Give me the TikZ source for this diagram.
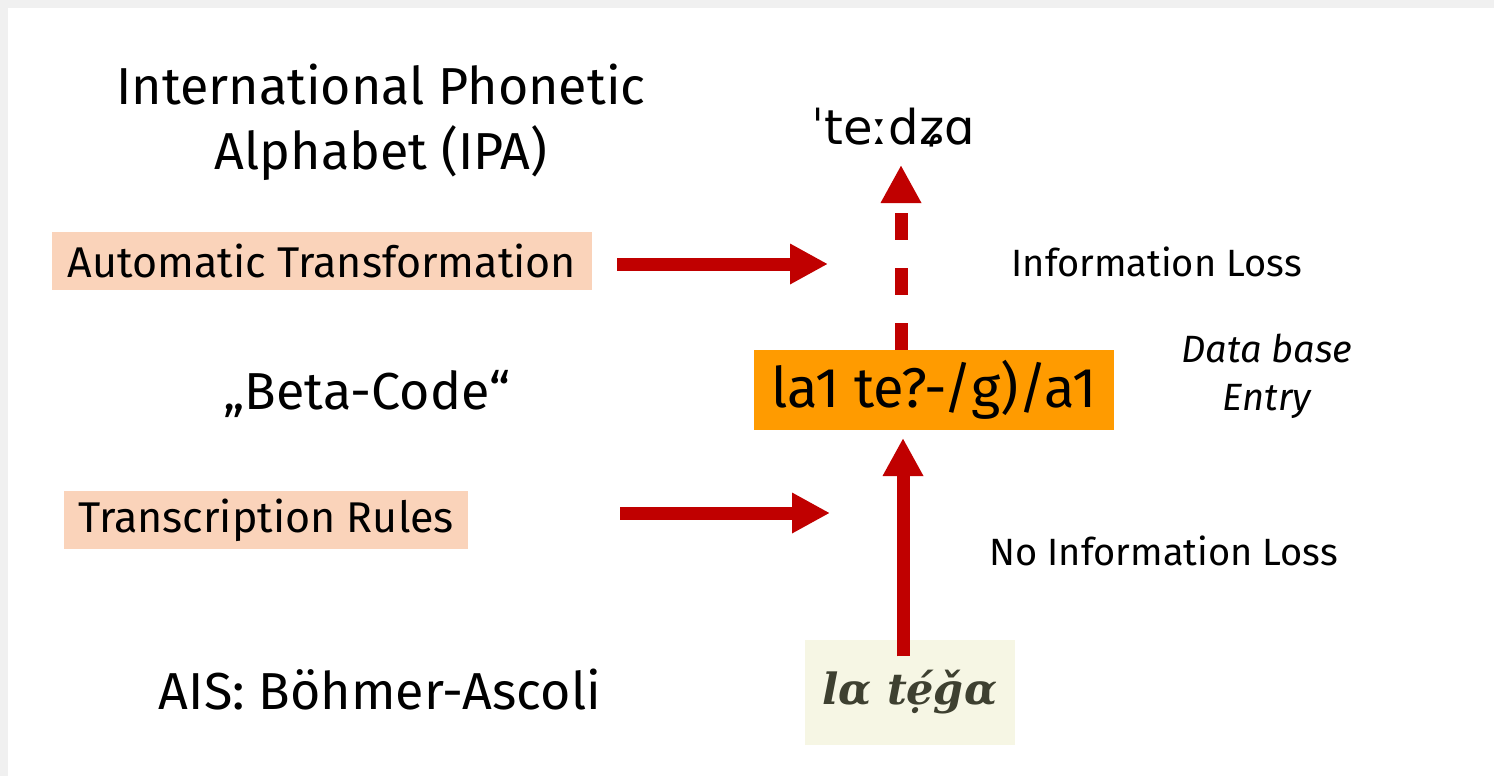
\documentclass[tikz,border=0pt]{standalone}
\usepackage{fontspec}
\setmainfont{Fira Sans}
\newfontfamily\ipafont{DejaVu Sans}
\newfontfamily\scanfont{DejaVu Serif}
\usetikzlibrary{arrows.meta}
\definecolor{slidegray}{RGB}{240,240,240}
\definecolor{rulepeach}{RGB}{250,211,186}
\definecolor{entryorange}{RGB}{255,155,0}
\definecolor{slidered}{RGB}{192,0,0}
\definecolor{scanpaper}{RGB}{246,246,228}
\definecolor{scanink}{RGB}{62,64,48}
\tikzset{
  bigtext/.style={font=\fontsize{52}{65}\selectfont},
  ruletext/.style={font=\fontsize{43}{50}\selectfont},
  losstext/.style={font=\fontsize{38}{48}\selectfont},
  rulebox/.style={ruletext, fill=rulepeach, minimum height=58pt, inner sep=0pt},
  fatarrow/.style={draw=slidered, line width=13pt, -{Triangle[length=38pt,width=38pt]}},
}
\begin{document}
\begin{tikzpicture}[x=1pt,y=-1pt]
  % Rahmen
  \fill[slidegray] (0,0) rectangle (1494,776);
  \fill[white] (8,8) rectangle (1494,776);
  \useasboundingbox (0,0) rectangle (1494,776);
  % Ebenen links
  \node[bigtext, align=center] (ipaname) at (381,122) {International Phonetic\\Alphabet (IPA)};
  \node[bigtext] (betaname) at (367,394) {„Beta-Code“};
  \node[bigtext] (aisname) at (380,690) {AIS: Böhmer-Ascoli};
  % Regeln
  \node[rulebox, minimum width=540pt] (autotrans) at (322,261) {Automatic Transformation};
  \node[rulebox, minimum width=404pt] (transrules) at (266,520) {Transcription Rules};
  % Formen
  \node[font=\ipafont\fontsize{48}{50}\selectfont] (ipaform) at (893,128) {ˈteːdʑɑ};
  \node[fill=entryorange, minimum width=360pt, minimum height=80pt, inner sep=0pt,
        font=\fontsize{56}{60}\selectfont] (entry) at (934,390) {la1 te?-/g)/a1};
  \node[fill=scanpaper, minimum width=210pt, minimum height=105pt, inner sep=0pt,
        text=scanink, font=\scanfont\bfseries\itshape\fontsize{43}{46}\selectfont] (scan) at (910,692) {lα tẹ́ǧα};
  % Beschriftung rechts
  \node[losstext, anchor=west] (loss) at (1008,262) {Information Loss};
  \node[losstext, anchor=west] (noloss) at (986,551) {No Information Loss};
  \node[losstext, font=\itshape\fontsize{38}{48}\selectfont, align=center] (dbentry) at (1267,376) {Data base\\Entry};
  % Pfeile
  \coordinate (autoend) at (828,264);
  \coordinate (rulesend) at (830,513);
  \coordinate (ipatip) at (901,165);
  \coordinate (entrytip) at (903,438);
  \draw[fatarrow] ([xshift=25pt,yshift=-3pt]autotrans.east) -- (autoend);
  \draw[fatarrow] ([xshift=152pt,yshift=7pt]transrules.east) -- (rulesend);
  \draw[fatarrow, dash pattern=on 27pt off 28pt] (entry.north -| ipatip) -- (ipatip);
  \draw[fatarrow] ([yshift=-17pt]scan.north -| entrytip) -- (entrytip);
\end{tikzpicture}
\end{document}
